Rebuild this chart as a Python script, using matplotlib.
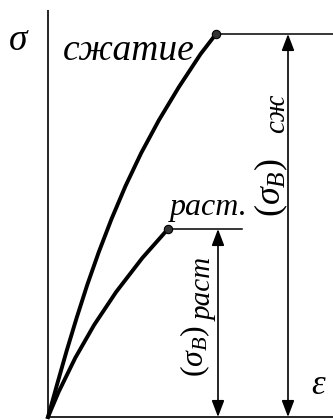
import matplotlib.pyplot as plt

plt.rcParams['font.family'] = ['Liberation Serif', 'DejaVu Serif']
plt.rcParams['mathtext.fontset'] = 'custom'
plt.rcParams['mathtext.rm'] = 'Liberation Serif'
plt.rcParams['mathtext.it'] = 'Liberation Serif:italic'

# кривые деформирования (условные единицы)
eps_comp = [0, 9.2, 18.6, 28.6, 39.2, 50.8, 63.5, 77.5, 93.2, 111, 130.9, 152.6, 168]
sig_comp = [0, 33, 66, 99, 132, 165, 198, 231, 264, 297, 330, 363, 383]
eps_tens = [0, 10.6, 27.2, 46.1, 68.1, 94.3, 120]
sig_tens = [0, 25, 59, 92, 125, 159, 188]

sigB_comp = sig_comp[-1]
sigB_tens = sig_tens[-1]

eps_max = 285
sig_max = 407

fig = plt.figure(figsize=(3.33, 4.2), dpi=100)
ax = fig.add_axes([0, 0, 1, 1])
ax.set_xlim(-48, 285)
ax.set_ylim(-3, 417)
ax.axis('off')

# оси
ax.plot([0, 0], [0, sig_max], color='black', lw=1.2, solid_capstyle='butt')
ax.plot([0, eps_max], [0, 0], color='black', lw=1.2, solid_capstyle='butt')

# кривые сжатия и растяжения
ax.plot(eps_comp, sig_comp, color='black', lw=2.8, solid_joinstyle='round')
ax.plot(eps_tens, sig_tens, color='black', lw=2.8, solid_joinstyle='round')

# уровни пределов прочности
ax.plot([eps_comp[-1], eps_max], [sigB_comp, sigB_comp], color='black', lw=1.1)
ax.plot([eps_tens[-1], 194], [sigB_tens, sigB_tens], color='black', lw=1.1)

ax.plot(eps_comp[-1], sigB_comp, 'o', ms=6, mfc='#333333', mec='black', mew=0.8, zorder=5)
ax.plot(eps_tens[-1], sigB_tens, 'o', ms=6, mfc='#333333', mec='black', mew=0.8, zorder=5)

# размерные стрелки
arrow = dict(arrowstyle='<|-|>,head_length=1.0,head_width=0.38', color='black', lw=1.2,
             shrinkA=0, shrinkB=0)
ax.annotate('', xy=(240, sigB_comp), xytext=(240, 0), arrowprops=arrow)
ax.annotate('', xy=(170, sigB_tens), xytext=(170, 0), arrowprops=arrow)

# подписи
ax.text(-29, 376, r'$\sigma$', fontsize=27, ha='center', va='center')
ax.text(81, 357, 'сжатие', fontsize=27, style='italic', ha='center', va='baseline')
ax.text(161, 202, 'раст.', fontsize=23, style='italic', ha='center', va='baseline')
ax.text(271, 32, r'$\varepsilon$', fontsize=25, ha='center', va='center')

ax.text(223, 200, r'$(\sigma_{B})$', fontsize=26, rotation=90, ha='center', va='bottom')
ax.text(229, 284, 'сж', fontsize=21, style='italic', rotation=90, ha='center', va='bottom')
ax.text(147, 40, r'$(\sigma_{B})$', fontsize=23, rotation=90, ha='center', va='bottom')
ax.text(157, 96, 'раст', fontsize=21, style='italic', rotation=90, ha='center', va='bottom')

fig.savefig('out.png', dpi=100)
